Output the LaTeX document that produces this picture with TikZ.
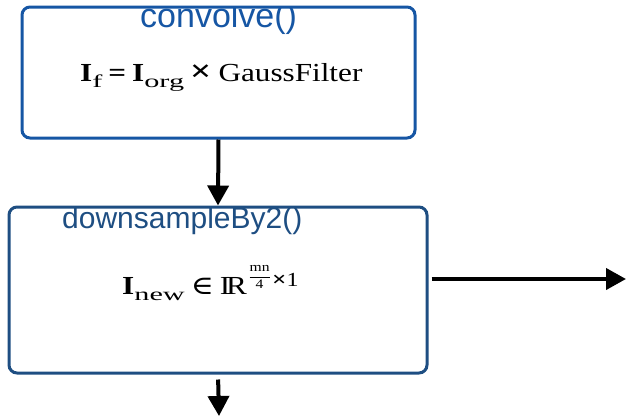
\documentclass[tikz,border=0pt]{standalone}
\usepackage{graphicx}
\usepackage{fontspec}
\setmainfont{Liberation Serif}
\newfontfamily\titlefont{Liberation Sans}
\newfontfamily\symfont{DejaVu Serif}
\usetikzlibrary{arrows.meta,calc}

\definecolor{convblue}{RGB}{22,86,164}
\definecolor{downblue}{RGB}{30,78,130}

% lowered, widened subscript
\newcommand{\lowsub}[1]{\raisebox{-6pt}{\scalebox{1.4}[1]{\fontsize{18}{18}\selectfont #1}}}
% the real numbers, written as I and R set together
\newcommand{\reals}{I\kern-0.13em R}
% small stacked fraction
\newcommand{\smallfrac}[2]{{\fontsize{13}{13}\selectfont
  $\displaystyle\frac{\mathrm{#1}}{\mathrm{#2}}$}}
% heavy multiplication sign
\newcommand{\bigtimes}[1]{{\fontsize{#1}{#1}\selectfont\textbf{×}}}

\tikzset{
  stage/.style={draw, line width=3pt, rounded corners=8pt, inner sep=0pt},
  title/.style={font=\titlefont, anchor=base west, inner sep=0pt},
  formula/.style={anchor=base west, inner sep=0pt, transform shape, xscale=1.2,
    font=\fontsize{26}{26}\selectfont},
  flow/.style={line width=4pt, -{Triangle[length=20pt,width=21pt]}},
}

\begin{document}
\begin{tikzpicture}[x=1pt, y=-1pt]
\useasboundingbox (0,0) rectangle (626,418);

% processing stages
\node[stage, draw=convblue, minimum width=393pt, minimum height=131pt] (conv) at (218.5,72.5) {};
\node[stage, draw=downblue, minimum width=418pt, minimum height=166pt] (down) at (218,290) {};

% stage titles sit on the top border and are cut off above it
\begin{scope}
  \clip (0,7) rectangle (626,140);
  \node[title, text=convblue, font=\titlefont\fontsize{34}{34}\selectfont] (convtitle) at (140,27) {convolve()};
\end{scope}
\begin{scope}
  \clip (0,207) rectangle (626,300);
  \node[title, text=downblue, font=\titlefont\fontsize{30}{30}\selectfont] (downtitle) at (62,228) {downsampleBy2()};
\end{scope}

% formulas
\node[formula] (f1) at (80,81)
  {\textbf{I}\lowsub{f}\hspace{5pt}\textbf{=}\hspace{5pt}\textbf{I}\lowsub{org}\hspace{5pt}\bigtimes{31}\hspace{6pt}GaussFilter};
\node[formula] (f2) at (122,294)
  {\textbf{I}\lowsub{new}\hspace{5pt}{\symfont ∈}\hspace{5pt}\reals\hspace{1pt}\raisebox{14pt}{\smallfrac{mn}{4}}\hspace{1pt}\raisebox{8pt}{\bigtimes{21}{\fontsize{20}{20}\selectfont 1}}};

% connectors
\coordinate (outR) at (626,279);
\coordinate (outD) at (219,416);
\draw[flow] (conv.south) -- (down.north);
\draw[flow, shorten <=3pt] (down.east |- outR) -- (outR);
\draw[flow, shorten <=5pt] (down.south) -- (outD);
\end{tikzpicture}
\end{document}
